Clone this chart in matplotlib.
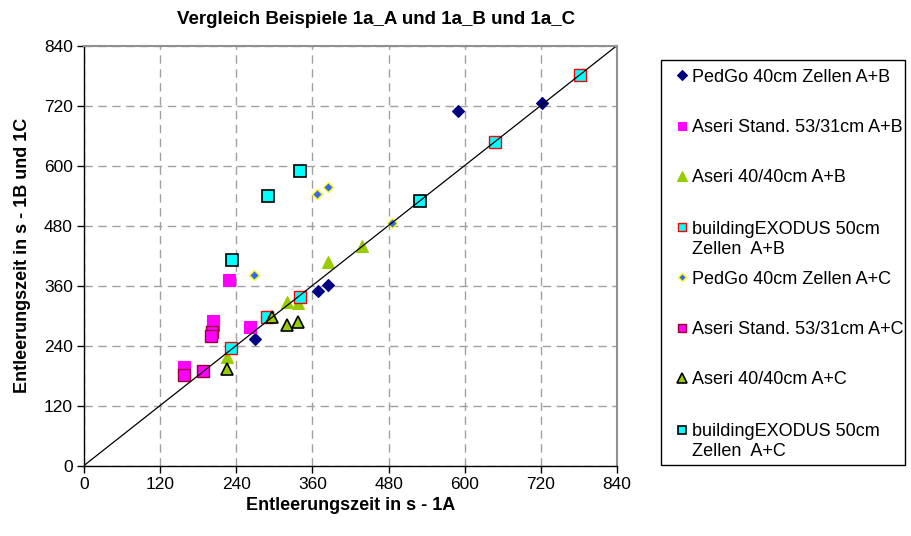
import matplotlib
matplotlib.use("Agg")
import matplotlib.pyplot as plt
from matplotlib.lines import Line2D
from matplotlib.patches import Rectangle

plt.rcParams['font.family'] = ['Liberation Sans', 'DejaVu Sans']

# Entleerungszeiten [s]: x = Beispiel 1A, y = Beispiel 1B bzw. 1C
pedgo_ab_x = [269, 368, 385, 590, 722]
pedgo_ab_y = [253, 349, 362, 710, 725]
aseri_st_ab_x = [158, 203, 203, 228, 261]
aseri_st_ab_y = [198, 290, 282, 371, 277]
aseri_40_ab_x = [226, 320, 338, 385, 438]
aseri_40_ab_y = [218, 328, 325, 407, 440]
exodus_ab_x = [232, 289, 340, 648, 782]
exodus_ab_y = [236, 298, 337, 648, 782]
pedgo_ac_x = [268, 367, 385, 485]
pedgo_ac_y = [382, 543, 557, 485]
aseri_st_ac_x = [158, 188, 202, 200]
aseri_st_ac_y = [181, 189, 267, 259]
aseri_40_ac_x = [226, 297, 320, 338]
aseri_40_ac_y = [193, 297, 281, 288]
exodus_ac_x = [233, 290, 340, 529]
exodus_ac_y = [412, 539, 589, 529]

labels = ['PedGo 40cm Zellen A+B', 'Aseri Stand. 53/31cm A+B', 'Aseri 40/40cm A+B',
          'buildingEXODUS 50cm\nZellen  A+B', 'PedGo 40cm Zellen A+C',
          'Aseri Stand. 53/31cm A+C', 'Aseri 40/40cm A+C',
          'buildingEXODUS 50cm\nZellen  A+C']
ticks = [0, 120, 240, 360, 480, 600, 720, 840]

series = [
    (pedgo_ab_x, pedgo_ab_y, dict(marker='D', ms=6.2, mfc='#000080', mec='#000080', mew=0.8)),
    (aseri_st_ab_x, aseri_st_ab_y, dict(marker='s', ms=8.0, mfc='#FF00FF', mec='#FF00FF', mew=0.8)),
    (aseri_40_ab_x, aseri_40_ab_y, dict(marker='^', ms=8.5, mfc='#99CC00', mec='#99CC00', mew=0.8)),
    (exodus_ab_x, exodus_ab_y, dict(marker='s', ms=8.0, mfc='#00FFFF', mec='#FF0000', mew=1.0)),
    (pedgo_ac_x, pedgo_ac_y, dict(marker='D', ms=5.5, mfc='#3366FF', mec='#FFFF00', mew=1.0)),
    (aseri_st_ac_x, aseri_st_ac_y, dict(marker='s', ms=8.0, mfc='#FF00FF', mec='#990033', mew=1.0)),
    (aseri_40_ac_x, aseri_40_ac_y, dict(marker='^', ms=8.5, mfc='#99CC00', mec='#000000', mew=1.2)),
    (exodus_ac_x, exodus_ac_y, dict(marker='s', ms=8.0, mfc='#00FFFF', mec='#000000', mew=1.2)),
]

W, H = 911, 536
fig = plt.figure(figsize=(W / 100, H / 100), dpi=100)
ax = fig.add_axes([84 / W, 1 - 465.5 / H, 533 / W, 420 / H])

for xs, ys, st in series:
    ax.plot(xs, ys, ls='none', **st)

# Winkelhalbierende
ax.plot([0, 840], [0, 840], color='black', lw=0.9)

ax.set_xlim(0, 840)
ax.set_ylim(0, 840)
ax.set_xticks(ticks)
ax.set_yticks(ticks)
ax.tick_params(direction='out', length=5, width=1, labelsize=12.5, colors='black')
ax.tick_params(axis='x', pad=3)
ax.tick_params(axis='y', pad=3)
ax.grid(True, color='#A0A0A0', ls=(0, (6, 4)), lw=1)
for side in ('top', 'right'):
    ax.spines[side].set_color('#909090')
    ax.spines[side].set_linewidth(1.5)
for side in ('left', 'bottom'):
    ax.spines[side].set_color('black')
    ax.spines[side].set_linewidth(1)

ax.set_xlabel('Entleerungszeit in s - 1A', fontsize=13, fontweight='bold', labelpad=4)
ax.set_ylabel('Entleerungszeit in s - 1B und 1C', fontsize=13, fontweight='bold', labelpad=9)
fig.text(376 / W, 1 - 24 / H, 'Vergleich Beispiele 1a_A und 1a_B und 1a_C',
         ha='center', va='baseline', fontsize=13.5, fontweight='bold')

# Legende
fig.add_artist(Rectangle((661 / W, 1 - 464.5 / H), 244 / W, 405 / H,
                         transform=fig.transFigure, fill=False, ec='black', lw=1))
leg_y = [75, 126, 176, 227, 277, 328, 378, 430]
for (xs, ys, st), lab, yy in zip(series, labels, leg_y):
    st2 = dict(st)
    st2['ms'] = st['ms'] * 0.8
    fig.add_artist(Line2D([682 / W], [1 - yy / H], transform=fig.transFigure, ls='none', **st2))
    lines = lab.split('\n')
    for i, line in enumerate(lines):
        fig.text(692 / W, 1 - (yy + 6.5 + 20 * i) / H, line, ha='left', va='baseline',
                 fontsize=13, transform=fig.transFigure)

fig.savefig('out.png', dpi=100)
